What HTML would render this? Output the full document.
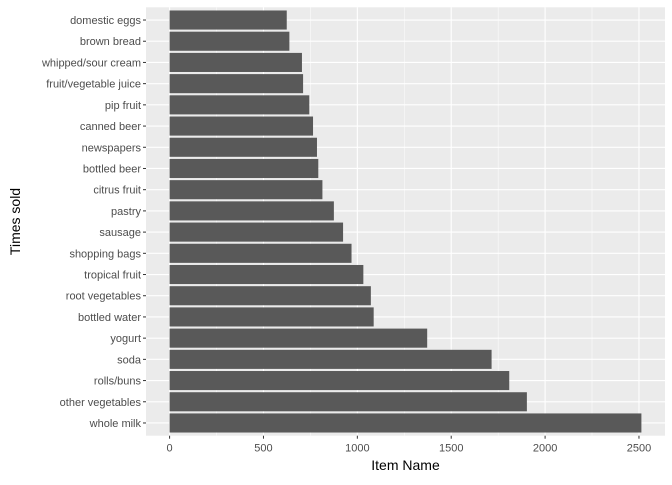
<!DOCTYPE html>
<html><head><meta charset="utf-8"><style>
body{margin:0;background:#fff;font-family:"Liberation Sans",sans-serif}
</style></head><body>
<svg id="c" width="672" height="480" xmlns="http://www.w3.org/2000/svg"></svg>
<script>
const categories=["domestic eggs","brown bread","whipped/sour cream","fruit/vegetable juice","pip fruit","canned beer","newspapers","bottled beer","citrus fruit","pastry","sausage","shopping bags","tropical fruit","root vegetables","bottled water","yogurt","soda","rolls/buns","other vegetables","whole milk"];
const values=[624,638,705,711,744,764,785,792,814,875,924,969,1032,1072,1087,1372,1715,1809,1903,2513];
const xTicks=[0,500,1000,1500,2000,2500];
const NS="http://www.w3.org/2000/svg";
const svg=document.getElementById('c');
const L=146,R=665,T=7.3,B=435.7;
const xmin=-125.65,xmax=2638.65;
const x=v=>L+(v-xmin)/(xmax-xmin)*(R-L);
const n=categories.length;
const band=(B-T)/(n+0.2);
const y=i=>T+(0.6+i)*band;
function mk(t,a,p){const e=document.createElementNS(NS,t);for(const k in a)e.setAttribute(k,a[k]);(p||svg).appendChild(e);return e;}
const bg=mk('rect',{x:L,y:T,width:R-L,height:B-T,fill:'#EBEBEB'});


for(let i=0;i<xTicks.length;i++){
  const mx=xTicks[i]+250;
  if(mx<xmax){const g=mk('line',{x1:x(mx),x2:x(mx),y1:T,y2:B,stroke:'#fff','stroke-width':0.5});
  
  }
  const g2=mk('line',{x1:x(xTicks[i]),x2:x(xTicks[i]),y1:T,y2:B,stroke:'#fff','stroke-width':1.1});
  
  
  const tk=mk('line',{x1:x(xTicks[i]),x2:x(xTicks[i]),y1:B,y2:B+3,stroke:'#333'});
  
  
  const tl=mk('text',{x:x(xTicks[i]),y:B+16,'text-anchor':'middle','font-size':11,fill:'#4D4D4D'});
  tl.textContent=xTicks[i];
  
  
}
for(let i=0;i<n;i++){
  const g=mk('line',{x1:L,x2:R,y1:y(i),y2:y(i),stroke:'#fff','stroke-width':1.1});
  
  
}
for(let i=0;i<n;i++){
  const r=mk('rect',{x:x(0),y:y(i)-band*0.45,width:x(values[i])-x(0),height:band*0.9,fill:'#595959'});
  
  
  const tk=mk('line',{x1:L-3,x2:L,y1:y(i),y2:y(i),stroke:'#333'});
  
  
  const tl=mk('text',{x:L-5,y:y(i)+4,'text-anchor':'end','font-size':11,fill:'#4D4D4D'});
  tl.textContent=categories[i];
  
  
}
const xt=mk('text',{x:(L+R)/2,y:470,'text-anchor':'middle','font-size':14,fill:'#000'});
xt.textContent='Item Name';


const yt=mk('text',{x:0,y:0,'text-anchor':'middle','font-size':14,fill:'#000',transform:`translate(20,${(T+B)/2}) rotate(-90)`});
yt.textContent='Times sold';


</script>
</body></html>
